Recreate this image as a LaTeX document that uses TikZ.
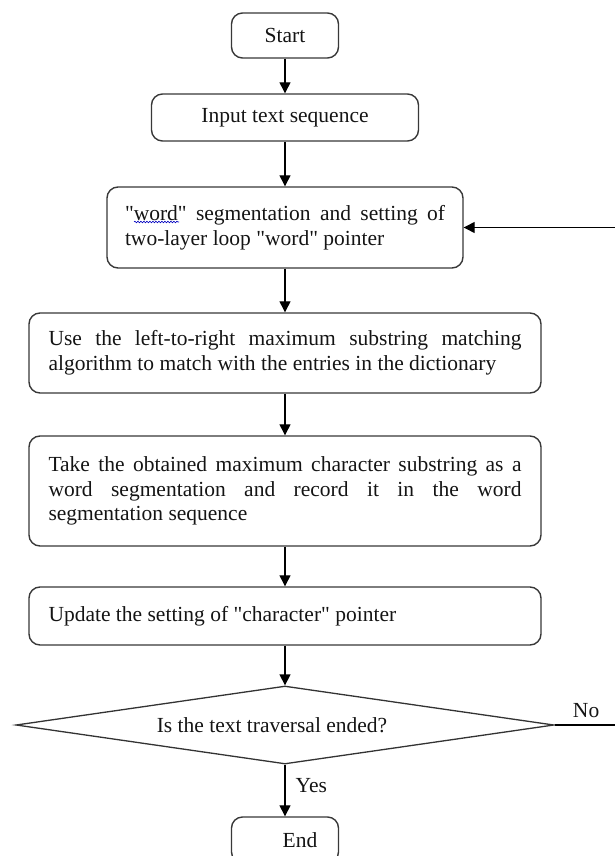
\documentclass[tikz,border=0pt]{standalone}
\usepackage{fontspec}
\setmainfont{Liberation Serif}[Ligatures=TeXOff]
\usetikzlibrary{shapes.geometric,arrows.meta,decorations.pathmorphing}
\hyphenpenalty=10000
\exhyphenpenalty=10000
\tolerance=10000
\begin{document}
\begin{tikzpicture}[x=1pt,y=-1pt,
  every node/.style={font=\fontsize{21.5}{24.7}\selectfont, text=black!92},
  box/.style={draw=black!78, line width=1.4pt, rounded corners=11pt, inner sep=0pt},
  textbox/.style={box, text width=#1, align=justify},
  decision/.style={draw=black!80, line width=1.3pt, shape=diamond, aspect=6.9, inner sep=0pt},
  arr/.style={draw=black, line width=1.3pt, -{Triangle[length=11pt,width=11pt]}},
  lbl/.style={inner sep=0pt}
]
\clip (0,0) rectangle (615,856);

% process steps
\node[box, minimum width=107pt, minimum height=45pt] (start) at (285,35.5) {Start};
\node[box, minimum width=267pt, minimum height=47pt] (input) at (285,117.5) {Input text sequence};
\node[textbox=320pt, minimum width=356pt, minimum height=81pt] (seg) at (285,227.5)
  {"word" segmentation and setting of two-layer loop "word" pointer};
\node[textbox=473pt, minimum width=512pt, minimum height=80pt] (match) at (285,353)
  {Use the left-to-right maximum substring matching algorithm to match with the entries in the dictionary};
\node[textbox=473pt, minimum width=512pt, minimum height=110pt] (take) at (285,491)
  {Take the obtained maximum character substring as a\linebreak word segmentation and record it in the word\linebreak segmentation sequence};
\node[textbox=473pt, minimum width=512pt, minimum height=58pt] (update) at (285,616)
  {Update the setting of "character" pointer};
\node[decision, minimum width=538pt, minimum height=78pt] (dec) at (285,725)
  {Is the text traversal ended?\hspace*{26pt}};
\node[box, minimum width=107pt, minimum height=46pt] (end) at (285,840) {\hspace*{30pt}End};

% spell-check underline under the first "word"
\draw[blue!75!black, line width=0.6pt, decorate,
      decoration={snake, amplitude=0.8pt, segment length=3pt}] (134,222) -- (179,222);

% flow
\draw[arr] (start.south) -- (input.north);
\draw[arr] (input.south) -- (seg.north);
\draw[arr] (seg.south) -- (match.north);
\draw[arr] (match.south) -- (take.north);
\draw[arr] (take.south) -- (update.north);
\draw[arr] (update.south) -- (dec.north);
\draw[arr] (dec.south) -- node[lbl, pos=0.4, right=10pt] {Yes} (end.north);

% loop back when the traversal is not finished
\coordinate (loop) at (650,725);
\draw[arr] (dec.east) -- node[lbl, pos=0.33, above=7pt] {No} (dec.east -| loop) |- (seg.east);
\end{tikzpicture}
\end{document}
